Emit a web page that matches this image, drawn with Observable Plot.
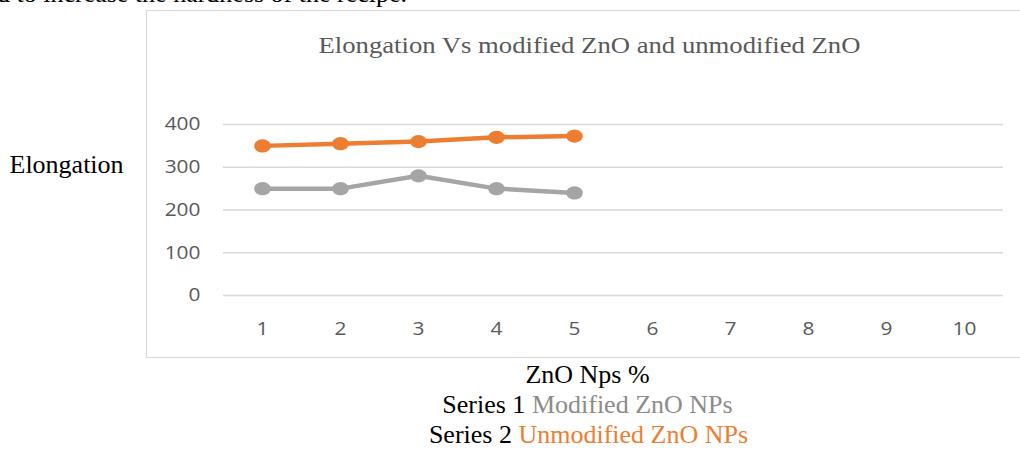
<!DOCTYPE html>
<html>
<head>
<meta charset="utf-8">
<script src="https://cdn.jsdelivr.net/npm/d3@7"></script>
<script src="https://cdn.jsdelivr.net/npm/@observablehq/plot@0.6"></script>
<style>
  html, body { margin: 0; padding: 0; background: #fff; }
  #page { position: relative; width: 1020px; height: 450px; overflow: hidden; font-family: "Liberation Serif", "Times New Roman", serif; }
  .abs { position: absolute; white-space: nowrap; line-height: 30px; }
  .word { font-size: 26px; color: #000; }
  #box { position: absolute; left: 146px; top: 10px; width: 880px; height: 348px; border: 1.5px solid #d9d9d9; box-sizing: border-box; }
  #chart { position: absolute; left: 146px; top: 10px; }
</style>
</head>
<body>
<div id="page">
  <div class="abs word" style="left:-3px; top:-21px;">d to increase the hardness of the recipe.</div>
  <div id="box"></div>
  <div id="chart"></div>
  <div class="abs" id="title" style="left:0; width:1179px; text-align:center; top:31px; font-size:23px; color:#595959; transform:scaleX(1.16); transform-origin:589.5px 50%;">Elongation Vs modified ZnO and unmodified ZnO</div>
  <div class="abs word" style="left:9.5px; top:150px;">Elongation</div>
  <div class="abs word" style="left:0; width:1175px; text-align:center; top:360px;">ZnO Nps %</div>
  <div class="abs word" id="leg1" style="left:0; width:1175px; text-align:center; top:390px;"></div>
  <div class="abs word" id="leg2" style="left:0; width:1177px; text-align:center; top:420px;"></div>
</div>
<script>
const xCategories = [1, 2, 3, 4, 5, 6, 7, 8, 9, 10];
const yTicks = [0, 100, 200, 300, 400];
const seriesX = [1, 2, 3, 4, 5];
const modifiedValues = [250, 250, 280, 250, 240];
const unmodifiedValues = [350, 355, 360, 370, 373];
const seriesNames = ["Series 1", "Series 2"];
const seriesLabels = ["Modified ZnO NPs", "Unmodified ZnO NPs"];
const seriesColors = ["#a5a5a5", "#ed7d31"];

const modified = seriesX.map((x, i) => ({x, y: modifiedValues[i]}));
const unmodified = seriesX.map((x, i) => ({x, y: unmodifiedValues[i]}));

// slightly wide ellipse marker (the reference picture is stretched horizontally)
const ellipse = {
  draw(context, size) {
    const r = Math.sqrt(size / Math.PI);
    const rx = r * 1.15, ry = r * 0.92, k = 0.5523;
    context.moveTo(rx, 0);
    context.bezierCurveTo(rx, ry * k, rx * k, ry, 0, ry);
    context.bezierCurveTo(-rx * k, ry, -rx, ry * k, -rx, 0);
    context.bezierCurveTo(-rx, -ry * k, -rx * k, -ry, 0, -ry);
    context.bezierCurveTo(rx * k, -ry, rx, -ry * k, rx, 0);
    context.closePath();
  }
};

const chart = Plot.plot({
  width: 874,
  height: 348,
  marginLeft: 77,
  marginRight: 17,
  marginTop: 114,
  marginBottom: 63,
  style: { fontFamily: "'Open Sans', 'Liberation Sans', sans-serif", fontSize: "18.5px", color: "#595959", background: "transparent", overflow: "visible" },
  x: { type: "point", domain: xCategories, padding: 0.5 },
  y: { domain: [0, 400] },
  marks: [
    Plot.gridY(yTicks, { stroke: "#d9d9d9", strokeOpacity: 1, strokeWidth: 1.5 }),
    Plot.axisY({ ticks: yTicks, tickSize: 0, tickPadding: 23, label: null, fontSize: 18.5 }),
    Plot.axisX({ ticks: xCategories, tickSize: 0, tickPadding: 26, label: null, fontSize: 18.5 }),
    Plot.line(modified, { x: "x", y: "y", stroke: seriesColors[0], strokeWidth: 4.5 }),
    Plot.dot(modified, { x: "x", y: "y", fill: seriesColors[0], r: 7.2, symbol: ellipse }),
    Plot.line(unmodified, { x: "x", y: "y", stroke: seriesColors[1], strokeWidth: 4.5 }),
    Plot.dot(unmodified, { x: "x", y: "y", fill: seriesColors[1], r: 7.2, symbol: ellipse })
  ]
});
// widen tick label glyphs about their anchor to mimic the stretched reference
d3.select(chart).selectAll("g[aria-label$='tick label'] text").each(function () {
  const t = this.getAttribute("transform") || "";
  this.setAttribute("transform", t + " scale(1.13,1)");
});
document.getElementById("chart").appendChild(chart);

const legColors = ["#8c8c8c", "#ed7d31"];
["leg1", "leg2"].forEach((id, i) => {
  const el = document.getElementById(id);
  el.innerHTML = "";
  el.appendChild(document.createTextNode(seriesNames[i] + " "));
  const s = document.createElement("span");
  s.style.color = legColors[i];
  s.textContent = seriesLabels[i];
  el.appendChild(s);
});
</script>
</body>
</html>
